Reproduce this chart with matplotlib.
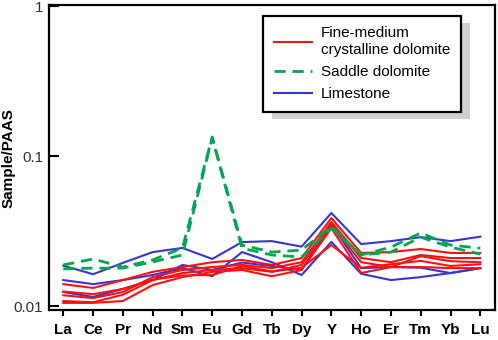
import matplotlib
matplotlib.use("Agg")
import matplotlib.pyplot as plt
from matplotlib.patches import Rectangle

plt.rcParams['font.family'] = ['Liberation Sans', 'DejaVu Sans']

elements = ["La", "Ce", "Pr", "Nd", "Sm", "Eu", "Gd", "Tb", "Dy", "Y",
            "Ho", "Er", "Tm", "Yb", "Lu"]

# fine-medium crystalline dolomite
red_1 = [0.0140, 0.0132, 0.0149, 0.0169, 0.0182, 0.0196, 0.0203, 0.0188, 0.0209, 0.0386, 0.0226, 0.0229, 0.0240, 0.0226, 0.0226]
red_2 = [0.0118, 0.0113, 0.0124, 0.0156, 0.0174, 0.0182, 0.0188, 0.0179, 0.0196, 0.0363, 0.0209, 0.0196, 0.0219, 0.0209, 0.0209]
red_3 = [0.0108, 0.0106, 0.0119, 0.0149, 0.0166, 0.0174, 0.0179, 0.0169, 0.0188, 0.0346, 0.0196, 0.0182, 0.0215, 0.0199, 0.0196]
red_4 = [0.0105, 0.0105, 0.0108, 0.0138, 0.0156, 0.0169, 0.0174, 0.0158, 0.0174, 0.0330, 0.0166, 0.0182, 0.0182, 0.0179, 0.0179]
red_5 = [0.0125, 0.0120, 0.0130, 0.0150, 0.0160, 0.0161, 0.0185, 0.0170, 0.0180, 0.0255, 0.0180, 0.0190, 0.0200, 0.0185, 0.0190]

# saddle dolomite
green_1 = [0.0188, 0.0206, 0.0182, 0.0203, 0.0244, 0.1340, 0.0255, 0.0229, 0.0236, 0.0340, 0.0219, 0.0247, 0.0307, 0.0255, 0.0243]
green_2 = [0.0177, 0.0179, 0.0179, 0.0197, 0.0219, 0.1320, 0.0243, 0.0219, 0.0212, 0.0330, 0.0219, 0.0229, 0.0288, 0.0247, 0.0222]

# limestone
blue_1 = [0.0186, 0.0163, 0.0194, 0.0229, 0.0244, 0.0206, 0.0267, 0.0271, 0.0249, 0.0417, 0.0259, 0.0271, 0.0288, 0.0271, 0.0290]
blue_2 = [0.0149, 0.0140, 0.0149, 0.0161, 0.0179, 0.0158, 0.0229, 0.0196, 0.0161, 0.0268, 0.0164, 0.0149, 0.0156, 0.0166, 0.0179]
blue_3 = [0.0124, 0.0115, 0.0130, 0.0149, 0.0188, 0.0174, 0.0195, 0.0185, 0.0175, 0.0350, 0.0179, 0.0182, 0.0180, 0.0166, 0.0179]

reds = [red_1, red_2, red_3, red_4, red_5]
greens = [green_1, green_2]
blues = [blue_1, blue_2, blue_3]

RED = "#ff1010"
GREEN = "#00a650"
BLUE = "#3535d5"

fig = plt.figure(figsize=(4.98, 3.40), dpi=100)
ax = fig.add_axes([0.0984, 0.088, 0.896, 0.897])

x = range(len(elements))
for i, s in enumerate(blues):
    ax.plot(x, s, color=BLUE, lw=1.5, label="Limestone" if i == 0 else None, zorder=2)
for i, s in enumerate(reds):
    ax.plot(x, s, color=RED, lw=1.5,
            label="Fine-medium\ncrystalline dolomite" if i == 0 else None, zorder=3)
for i, s in enumerate(greens):
    ax.plot(x, s, color=GREEN, lw=2, ls=(0, (4, 2.5)),
            label="Saddle dolomite" if i == 0 else None, zorder=4)

ax.set_yscale("log")
ax.set_ylim(0.0094, 1.015)
ax.set_xlim(-0.48, 14.5)
ax.set_yticks([0.01, 0.1, 1])
ax.set_yticklabels(["0.01", "0.1", "1"])
ax.yaxis.set_minor_locator(matplotlib.ticker.NullLocator())
ax.set_xticks(list(x))
ax.set_xticklabels(elements, fontweight="bold", fontsize=11)
ax.tick_params(axis="y", direction="in", length=7, width=1.5, labelsize=11,
               labelcolor="#333333", pad=4)
ax.tick_params(axis="x", direction="out", length=4, width=1.5, pad=5)
for sp in ax.spines.values():
    sp.set_linewidth(1.6)
ax.set_ylabel("Sample/PAAS", fontweight="bold", fontsize=11)
ax.yaxis.set_label_coords(-0.074, 0.5)

h, l = ax.get_legend_handles_labels()
order = [1, 2, 0]
leg = ax.legend([h[k] for k in order], [l[k] for k in order],
                loc="upper left", bbox_to_anchor=(0.48, 0.965),
                fontsize=11, frameon=True, fancybox=False, framealpha=1,
                edgecolor="black", handlelength=2.5, handletextpad=0.6,
                borderpad=0.7, labelspacing=0.55, borderaxespad=0)
leg.get_frame().set_linewidth(1.6)
leg.set_zorder(6)

# grey drop shadow behind the legend box
fig.canvas.draw()
bb = leg.get_window_extent()
inv = fig.transFigure.inverted()
(x0, y0), (x1, y1) = inv.transform([[bb.x0 + 9, bb.y0 - 7], [bb.x1 + 9, bb.y1 - 7]])
ax.add_patch(Rectangle((x0, y0), x1 - x0, y1 - y0, transform=fig.transFigure,
                       facecolor="#d0d0d0", edgecolor="none", zorder=5, clip_on=False))

fig.savefig("out.png", dpi=100)
